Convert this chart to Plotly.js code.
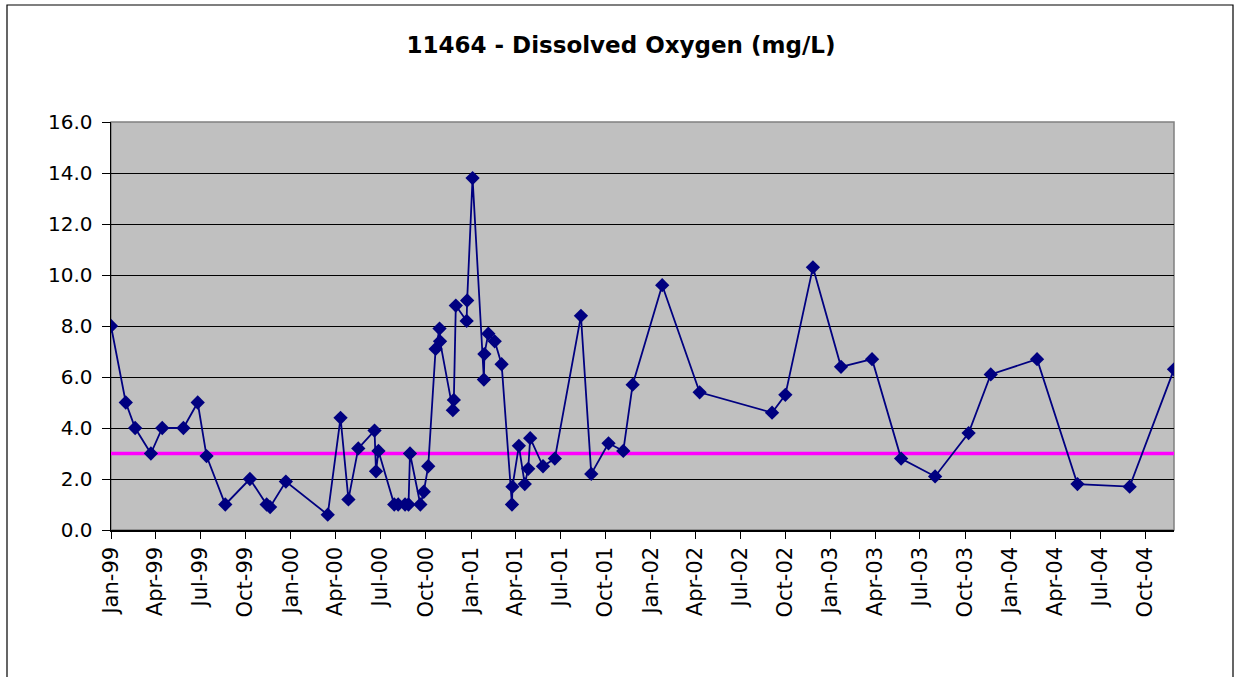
<!DOCTYPE html>
<html>
<head>
<meta charset="utf-8">
<script src="https://cdn.plot.ly/plotly-3.0.1.min.js"></script>
<style>html,body{margin:0;padding:0;background:#fff;}#chart{width:1235px;height:677px;}</style>
</head>
<body>
<div id="chart"></div>
<script>
const sampleDates = [
  "1999-01-05","1999-02-04","1999-02-23","1999-03-27","1999-04-19","1999-06-01","1999-06-30","1999-07-18",
  "1999-08-25","1999-10-14","1999-11-17","1999-11-24","1999-12-26","2000-03-20","2000-04-15","2000-05-01",
  "2000-05-21","2000-06-23","2000-06-26","2000-07-01","2000-08-02","2000-08-10","2000-08-24","2000-08-31",
  "2000-09-03","2000-09-24","2000-10-01","2000-10-10","2000-10-25","2000-11-02","2000-11-03","2000-11-29",
  "2000-12-01","2000-12-05","2000-12-27","2000-12-28","2001-01-08","2001-01-31","2001-02-01","2001-02-09",
  "2001-02-22","2001-03-08","2001-03-29","2001-03-30","2001-04-12","2001-04-24","2001-05-01","2001-05-05",
  "2001-05-31","2001-06-24","2001-08-16","2001-09-06","2001-10-11","2001-11-10","2001-11-29","2002-01-28",
  "2002-04-14","2002-09-08","2002-10-05","2002-11-30","2003-01-26","2003-03-30","2003-05-28","2003-08-05",
  "2003-10-12","2003-11-26","2004-02-28","2004-05-20","2004-09-03","2004-12-02"
];
const dissolvedOxygen = [
  8.0,5.0,4.0,3.0,4.0,4.0,5.0,2.9,
  1.0,2.0,1.0,0.9,1.9,0.6,4.4,1.2,
  3.2,3.9,2.3,3.1,1.0,1.0,1.0,1.0,
  3.0,1.0,1.5,2.5,7.1,7.9,7.4,4.7,
  5.1,8.8,8.2,9.0,13.8,5.9,6.9,7.7,
  7.4,6.5,1.0,1.7,3.3,1.8,2.4,3.6,
  2.5,2.8,8.4,2.2,3.4,3.1,5.7,9.6,
  5.4,4.6,5.3,10.3,6.4,6.7,2.8,2.1,
  3.8,6.1,6.7,1.8,1.7,6.3
];
const standardDates = ["1999-01-05","2004-12-02"];
const standardValues = [3.0, 3.0];
const chartTitle = "11464 - Dissolved Oxygen (mg/L)";
const yTickValues = [0,2,4,6,8,10,12,14,16];

const font = "DejaVu Sans, Arial, sans-serif";
const L = 111, R = 1174, T = 122, B = 530, W = 1235, H = 677;
const pw = R - L, ph = B - T;
function px(x){ return (x - L) / pw; }
function py(y){ return (B - y) / ph; }

const traces = [
  {
    x: standardDates, y: standardValues, type: "scatter", mode: "lines",
    line: {color: "#FF00FF", width: 3.5}, hoverinfo: "skip", showlegend: false
  },
  {
    x: sampleDates, y: dissolvedOxygen, type: "scatter", mode: "lines+markers",
    line: {color: "#000080", width: 1.8},
    marker: {symbol: "diamond", size: 11, color: "#000080"},
    showlegend: false
  }
];

const layout = {
  width: W, height: H,
  margin: {l: L, r: W - R, t: T, b: H - B, pad: 0},
  paper_bgcolor: "#FFFFFF",
  plot_bgcolor: "#C0C0C0",
  showlegend: false,
  title: {
    text: "<b>" + chartTitle + "</b>",
    font: {family: font, size: 23, color: "#000"},
    x: 621 / W, xref: "container", xanchor: "center",
    y: 1 - 45 / H, yref: "container", yanchor: "middle"
  },
  xaxis: {
    type: "date",
    range: [standardDates[0], standardDates[1]],
    tick0: sampleDates[0], dtick: "M3", tickformat: "%b-%y",
    tickangle: -90,
    ticks: "outside", ticklen: 7, tickcolor: "#000", tickwidth: 1,
    tickfont: {family: font, size: 21, color: "#000"},
    showgrid: false, zeroline: false,
    showline: true, linecolor: "#000", linewidth: 1.5
  },
  yaxis: {
    range: [0, 16],
    tickvals: yTickValues, tickformat: ".1f",
    ticks: "outside", ticklen: 8, tickcolor: "#000", tickwidth: 1,
    ticklabelstandoff: 5,
    tickfont: {family: font, size: 20, color: "#000"},
    showgrid: true, gridcolor: "#000", gridwidth: 1,
    zeroline: false,
    showline: true, linecolor: "#000", linewidth: 1.5
  },
  shapes: [
    {type: "rect", xref: "paper", yref: "paper", x0: 0, x1: 1, y0: 0, y1: 1,
     line: {color: "#808080", width: 1.5}, fillcolor: "rgba(0,0,0,0)", layer: "below"},
    {type: "rect", xref: "paper", yref: "paper",
     x0: px(7), x1: px(1233), y0: py(700), y1: py(5),
     line: {color: "#000", width: 1.2}, fillcolor: "rgba(0,0,0,0)"}
  ]
};

Plotly.newPlot("chart", traces, layout, {displayModeBar: false, staticPlot: true});
</script>
</body>
</html>
